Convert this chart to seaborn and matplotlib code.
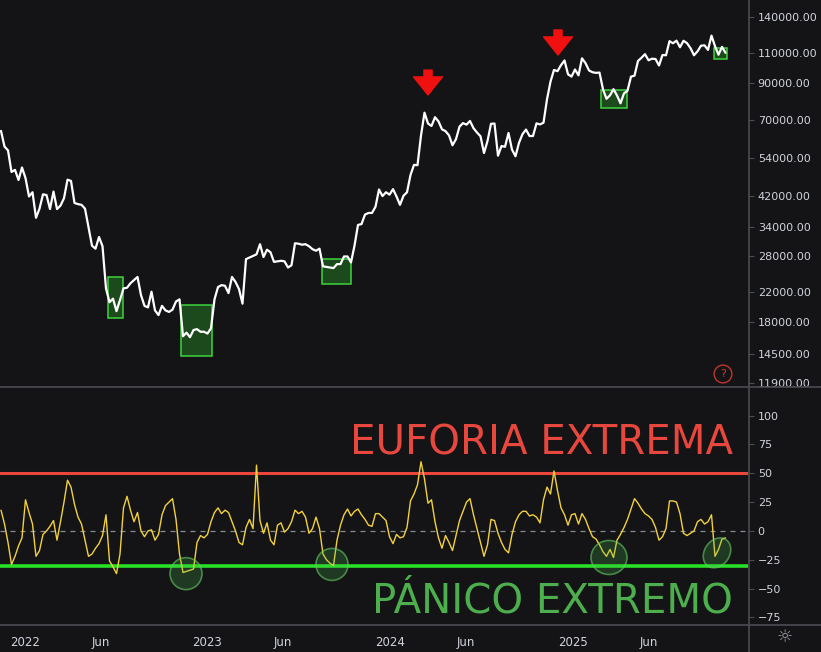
import pandas as pd
import matplotlib
matplotlib.use('Agg')
import matplotlib.pyplot as plt
import matplotlib.dates as mdates
import matplotlib.transforms as mtransforms
from matplotlib.patches import Rectangle, Ellipse
from matplotlib.lines import Line2D
import seaborn as sns

# weekly BTC closes (Sundays, from 2021-11-14)
price_2021 = [65000, 58500, 57000, 49300, 50000, 46700, 50800]
price_2022 = [47300, 41800, 43000, 36200, 38500,
              42400, 42200, 38400, 43200,
              38400, 39300, 41300, 46800,
              46400, 40000, 39700, 39500,
              38500, 34000, 30000, 29400, 31800,
              29900, 22500, 20500, 21000,
              19300, 20800, 22500, 22600, 23300,
              23800, 24300, 21500, 20000,
              19800, 22000, 19400, 18800,
              20000, 19400, 19200, 19500, 20600,
              20900, 16300, 16700, 16200,
              17000, 17100, 16800, 16800]
price_2023 = [16600, 17200, 20900, 22700, 23000,
              22900, 21800, 24300, 23500,
              22400, 20300, 27400, 27700,
              28000, 28300, 30300, 27800, 29200,
              28700, 26900, 27000, 27100,
              27000, 25900, 26300, 30500,
              30400, 30200, 30300, 29900, 29300,
              29000, 29400, 26100, 26000,
              25900, 25800, 26500, 26500,
              27900, 27900, 26800, 30000, 34500,
              34700, 37000, 37400, 37400,
              39000, 43800, 41900, 43000, 42300]
price_2024 = [43900, 41800, 39500, 42000,
              43000, 48300, 51700, 51600,
              63000, 73500, 68300, 67200, 71300,
              69300, 65700, 64900, 63100,
              59000, 61500, 66900, 68500,
              67800, 69500, 66200, 64300, 62700,
              56000, 60700, 68200, 68300,
              55000, 58700, 58400, 64100,
              57300, 54800, 60000, 63600, 65600,
              62800, 62800, 68400, 67900,
              68700, 80400, 90600, 98000,
              97200, 101200, 104500, 95200, 93700]
price_2025 = [98300, 94500, 106000, 102600,
              97700, 96500, 96100, 96300,
              86000, 80700, 82600, 86100, 82500,
              78300, 83700, 85200, 93700,
              94300, 104100, 106400, 109000,
              104600, 105700, 105500, 101000, 108400,
              108200, 119000, 117300, 119400,
              114200, 119300, 117400, 113500, 108200,
              111100, 115400, 115700, 112200,
              123500, 115000, 108600, 114500,
              110000]
price = price_2021 + price_2022 + price_2023 + price_2024 + price_2025

# sentiment oscillator, same weeks
sentiment = [18, 6, -10, -29, -22, -13, -6, 27, 16, 6,
             -22, -17, -3, 0, 4, 9, -8, 8, 25, 44,
             38, 23, 12, 6, -8, -22, -20, -15, -11, -4,
             14, -26, -31, -37, -20, 20, 30, 18, 8, 16,
             0, -5, 0, 1, -8, -3, 14, 22, 25, 28,
             10, -20, -36, -35, -34, -33, -10, -4, -6, -3,
             8, 16, 20, 15, 18, 16, 8, 0, -10, -12,
             3, 10, 2, 57, 9, -2, 7, -8, -12, 5,
             7, -1, 2, 8, 18, 15, 17, 12, -2, 2,
             12, 2, -20, -25, -28, -30, -8, 5, 14, 19,
             13, 17, 19, 14, 10, 5, 4, 15, 15, 12,
             9, -5, -11, -3, -6, -5, 3, 26, 32, 40,
             60, 45, 24, 27, 8, -6, -15, -4, -10, -17,
             -4, 9, 17, 25, 28, 14, 2, -10, -22, -12,
             10, 9, -2, -10, -16, -19, -3, 8, 14, 17,
             17, 13, 14, 12, 7, 27, 38, 32, 52, 35,
             20, 14, 5, 14, 15, 6, 15, 10, 2, -5,
             -7, -12, -18, -22, -16, -23, -8, -3, 3, 10,
             19, 28, 24, 19, 15, 13, 10, 3, -8, -5,
             2, 26, 26, 25, 15, -2, -4, -2, 0, 8,
             10, 6, 8, 14, -22, -16, -7, -6]

dates = pd.date_range('2021-11-14', periods=len(price), freq='7D')
df = pd.DataFrame({'date': dates, 'price': price, 'sentiment': sentiment})

price_ticks = [11900, 14500, 18000, 22000, 28000, 34000, 42000, 54000, 70000, 90000, 110000, 140000]
sent_ticks = [-75, -50, -25, 0, 25, 50, 75, 100]
x_ticks = ['2022-01-01', '2022-06-01', '2023-01-01', '2023-06-01',
           '2024-01-01', '2024-06-01', '2025-01-01', '2025-06-01']
x_labels = ['2022', 'Jun', '2023', 'Jun', '2024', 'Jun', '2025', 'Jun']

# panic zones on the price panel: start, end, low, high
panic_boxes = [('2022-06-16', '2022-07-16', 18400, 24300),
               ('2022-11-09', '2023-01-10', 14300, 20100),
               ('2023-08-18', '2023-10-15', 23200, 27400),
               ('2025-02-26', '2025-04-19', 75800, 85600),
               ('2025-10-10', '2025-11-05', 105700, 113600)]
# euphoria tops: date, arrow tip, arrow tail
tops = [('2024-03-17', 82800, 97900), ('2024-12-02', 108400, 128300)]
# circled panic readings on the oscillator
panic_marks = [('2022-11-19', -37), ('2023-09-07', -29), ('2025-03-14', -23), ('2025-10-16', -19)]

bg = '#141416'
fg = '#d1d4dc'
axis_col = '#4a4c52'

sns.set_theme(style='dark', rc={'axes.facecolor': bg, 'figure.facecolor': bg,
                                'axes.grid': False, 'text.color': fg,
                                'xtick.color': fg, 'ytick.color': fg})
plt.rcParams['font.family'] = ['DejaVu Sans']

fig = plt.figure(figsize=(8.21, 6.52), dpi=100)
ax1 = fig.add_axes([0, 265 / 652, 748 / 821, 387 / 652])
ax2 = fig.add_axes([0, 27 / 652, 748 / 821, 236 / 652], sharex=ax1)

# price panel
sns.lineplot(data=df, x='date', y='price', ax=ax1, color='white', lw=1.6, zorder=3)
ax1.set_yscale('log')
ax1.set_ylim(11580, 157000)
ax1.set_xlim(pd.Timestamp('2021-11-12'), pd.Timestamp('2025-12-17'))
ax1.yaxis.set_minor_locator(plt.NullLocator())
ax1.set_yticks(price_ticks)
ax1.set_yticklabels([f'{v:.2f}' for v in price_ticks])

for start, end, lo, hi in panic_boxes:
    x0 = mdates.date2num(pd.Timestamp(start))
    x1 = mdates.date2num(pd.Timestamp(end))
    ax1.add_patch(Rectangle((x0, lo), x1 - x0, hi - lo, facecolor='#1c4a1c',
                            edgecolor='#3cd43c', lw=1.1, zorder=2))

for d, tip, tail in tops:
    ax1.annotate('', xy=(pd.Timestamp(d), tip), xytext=(pd.Timestamp(d), tail),
                 arrowprops=dict(arrowstyle='simple,head_width=1.6,head_length=1.0,tail_width=0.45',
                                 color='#f01010', mutation_scale=13, shrinkA=0, shrinkB=0))

ax1.text(723 / 748, 13 / 387, '?', transform=ax1.transAxes, ha='center', va='center',
         color='#d03a32', fontsize=8,
         bbox=dict(boxstyle='circle,pad=0.35', fc='none', ec='#c0352d', lw=1))

# oscillator panel
sns.lineplot(data=df, x='date', y='sentiment', ax=ax2, color='#f2d13c', lw=1.0, zorder=3)
ax2.set_ylim(-81.5, 123)
ax2.set_yticks(sent_ticks)
ax2.set_yticklabels([str(v).replace('-', '\u2212') for v in sent_ticks])
ax2.axhline(50, color='#ec463c', lw=2.2, zorder=2)
ax2.axhline(-30, color='#27e027', lw=2.6, zorder=2)
ax2.axhline(0, color='#8a8c93', lw=0.9, ls=(0, (4, 4)), zorder=1)

ax2.text(0.98, 66, 'EUFORIA EXTREMA', transform=ax2.get_yaxis_transform(),
         ha='right', va='baseline', color='#e8473e', fontsize=29, family='DejaVu Sans')
ax2.text(0.98, -71, 'PÁNICO EXTREMO', transform=ax2.get_yaxis_transform(),
         ha='right', va='baseline', color='#4cae4c', fontsize=29, family='DejaVu Sans')

fig.canvas.draw()
for (d, v), (w, h, ang) in zip(panic_marks, [(32, 32, 0), (32, 32, 0), (36, 34, 0), (25, 32, -35)]):
    cx, cy = ax2.transData.transform((mdates.date2num(pd.Timestamp(d)), v))
    ax2.add_patch(Ellipse((0, 0), w, h, angle=ang, facecolor=(0.3, 0.75, 0.3, 0.22),
                          edgecolor=(0.4, 0.8, 0.4, 0.6), lw=1.2,
                          transform=mtransforms.Affine2D().translate(cx, cy), zorder=4))

ax2.set_xticks([pd.Timestamp(t) for t in x_ticks])
ax2.set_xticklabels(x_labels)

for ax in (ax1, ax2):
    ax.set_xlabel('')
    ax.set_ylabel('')
    ax.yaxis.tick_right()
    ax.tick_params(axis='y', direction='out', length=4, width=0.8, color=axis_col,
                   labelsize=8, labelcolor=fg, pad=3)
    for s in ax.spines.values():
        s.set_visible(False)
ax1.tick_params(axis='x', length=0, labelbottom=False)
ax2.tick_params(axis='x', direction='out', length=4, width=0.8, color=axis_col,
                labelsize=8.5, labelcolor=fg, pad=4)

# panel frame lines
fig.add_artist(Line2D([0, 1], [1 - 387.5 / 652] * 2, color=axis_col, lw=1.2))
fig.add_artist(Line2D([0, 1], [27 / 652] * 2, color=axis_col, lw=1.2))
fig.add_artist(Line2D([748.5 / 821] * 2, [0, 1], color=axis_col, lw=1.2))
fig.text(785 / 821, 15 / 652, '\u263c', color='#9a9ca3', fontsize=13, ha='center', va='center')

fig.savefig('out.png', dpi=100, facecolor=bg)
